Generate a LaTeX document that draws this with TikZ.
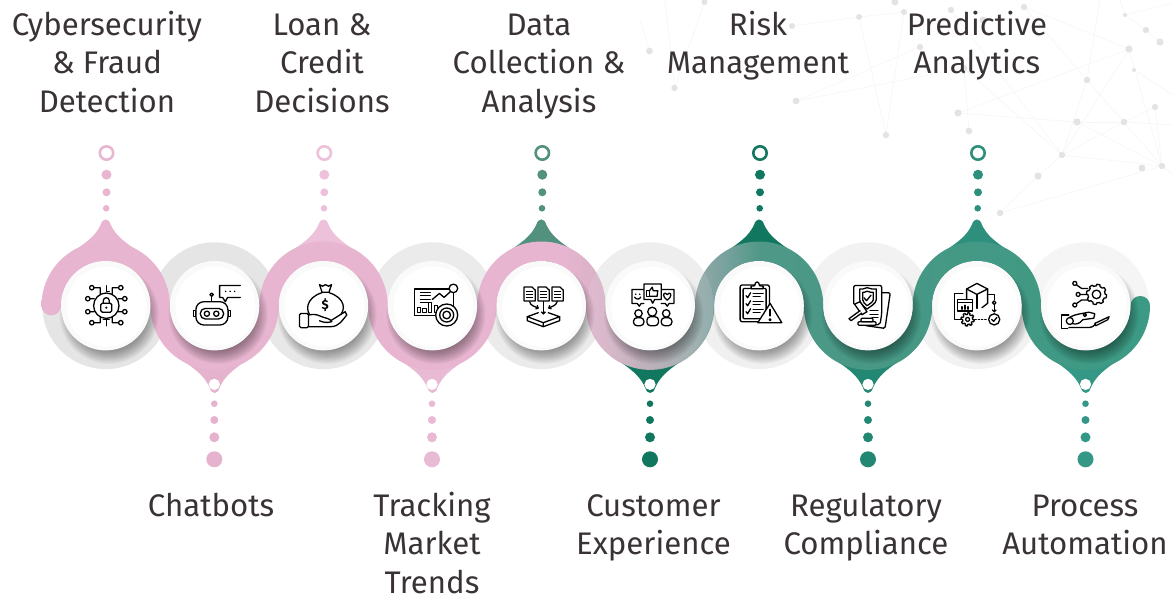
\documentclass[tikz,border=0pt]{standalone}
\usepackage{fontspec}
\setmainfont{Fira Sans}
\usepackage{xcolor}
\usetikzlibrary{arrows.meta}
\definecolor{bA}{HTML}{E8B5D0}
\definecolor{bB}{HTML}{D8B2C7}
\definecolor{bC}{HTML}{BCA9B6}
\definecolor{bD}{HTML}{99A9AA}
\definecolor{bE}{HTML}{7EA3A0}
\definecolor{bF}{HTML}{4F9888}
\definecolor{bG}{HTML}{489885}
\definecolor{bH}{HTML}{3C9A84}
\definecolor{txt}{HTML}{3A3335}
\definecolor{net}{HTML}{E3E3E3}
\definecolor{netl}{HTML}{F6F6F6}
\definecolor{dA}{HTML}{E8B6D1}
\definecolor{dB}{HTML}{E6B3CF}
\definecolor{dC}{HTML}{EDC1D9}
\definecolor{dD}{HTML}{E9BAD3}
\definecolor{dE}{HTML}{52917E}
\definecolor{dF}{HTML}{11775F}
\definecolor{dG}{HTML}{11775F}
\definecolor{dH}{HTML}{238873}
\definecolor{dI}{HTML}{2E8F7C}
\definecolor{dJ}{HTML}{359785}
\pgfdeclarehorizontalshading{bandgrad}{100bp}{color(0bp)=(bA); color(48.4bp)=(bA); color(50.2bp)=(bB); color(52bp)=(bC); color(54.25bp)=(bD); color(55.6bp)=(bE); color(57.4bp)=(bF); color(61.9bp)=(bG); color(75bp)=(bH); color(100bp)=(bH)}
\newcommand{\cy}{305.7}
\tikzset{
  label text/.style={font=\fontsize{31.2}{38.5}\selectfont, text=txt, align=center, inner sep=0pt, anchor=north},
  ico/.style={draw=black, line width=1.3pt, line cap=round, line join=round},
  wf/.style={ico, fill=white},
  netdot/.style={fill=net},
  netline/.style={draw=netl, line width=.7pt}
}
% tear drops
\newcommand{\dropup}[2]{\fill[#2] (#1-46,\cy-43) .. controls (#1-28,\cy-60) and (#1-13,\cy-64) .. (#1-5,\cy-81) .. controls (#1-3,\cy-88) and (#1+3,\cy-88) .. (#1+5,\cy-81) .. controls (#1+13,\cy-64) and (#1+28,\cy-60) .. (#1+46,\cy-43) -- cycle;}
\newcommand{\dropdn}[2]{\fill[#2] (#1-46,\cy+43) .. controls (#1-28,\cy+60) and (#1-13,\cy+64) .. (#1-5,\cy+82) .. controls (#1-3,\cy+89) and (#1+3,\cy+89) .. (#1+5,\cy+82) .. controls (#1+13,\cy+64) and (#1+28,\cy+60) .. (#1+46,\cy+43) -- cycle;}
\newcommand{\dotsup}[2]{%
  \draw[#2,line width=2.6pt,fill=white] (#1,153) circle (6.7);
  \fill[#2] (#1,174.7) circle (5); \fill[#2] (#1,192.3) circle (4); \fill[#2] (#1-.3,208.3) circle (3.3);}
\newcommand{\dotsdn}[2]{%
  \fill[white] (#1,\cy+78.7) circle (5.6);
  \fill[#2] (#1,403.7) circle (3.3); \fill[#2] (#1,420) circle (4); \fill[#2] (#1,437.3) circle (5); \fill[#2] (#1,459.3) circle (8);}
\newcommand{\gear}[4]{\draw[#4] plot[domain=0:360,samples=145,variable=\t] ({#1+(#3+1.6*(sign(sin(8*\t))+1)/2)*cos(\t)},{#2+(#3+1.6*(sign(sin(8*\t))+1)/2)*sin(\t)}) -- cycle;}
\begin{document}
\begin{tikzpicture}[x=1pt,y=-1pt]
\useasboundingbox (0,0) rectangle (1173,599);
% background network
\begin{scope}
\foreach \a/\b/\c/\d in {
 704.5/2/674.5/88, 649.5/51/640/20, 665/0/674.5/88, 792/26/859/17, 859/17/904/12, 859/17/886/135, 904/12/886/135,
 796/101/920/47, 796/101/964/68, 964/68/969/131, 958/113/1077/122, 958/113/1129/49, 964/68/1062/155, 951/10/1062/155,
 1024/7/1129/49, 1024/7/1087/80, 1087/80/1062/155, 1087/80/1162/166, 1129/49/1062/155, 1129/49/1162/166, 1077/122/1162/166,
 1077/122/1124/122, 1124/122/1155/107, 1155/107/1162/166, 1124/122/1062/155, 1062/155/1162/166, 1062/155/1038/176, 1000/213/1162/166,
 1125/15/1146/30, 1100/0/1087/80, 1134/70/1173/95, 1124/122/1173/125, 1125/15/1173/3, 1162/166/1173/175, 1038/176/1000/213,1120/0/1125/15,1146/30/1160/42}
 {\draw[netline] (\a,\b) -- (\c,\d);}
\foreach \a/\b/\r in {704.5/2/3, 649.5/51/3.4, 792/26/3, 674.5/88/3.2, 796/101/3.4, 886/135/3.2, 859/17/3, 895/2/3.5, 904/12/3, 920/47/3.2,
 951/10/3.2, 1024/7/3.2, 1125/15/2, 1146/30/3.2, 1160/42/3.6, 1129/49/3.6, 1087/80/3.2, 1134/70/2, 1155/107/3.2, 1124/122/3.2, 1077/122/3.6,
 958/113/3.6, 969/131/3.4, 1062/155/3.2, 1038/176/3.6, 1142/168/3.5, 1162/166/3.2, 1000/213/3.2, 964/68/3.2, 983/20/3.5}
 {\fill[netdot] (\a,\b) circle (\r);}
\end{scope}
% rings
\foreach \i/\g in {0/90,1/90,2/91,3/92,4/92,5/93,6/94,7/95,8/95,9/96}{
  \pgfmathsetmacro{\xc}{105.7+108.9*\i}
  \pgfmathtruncatemacro{\gg}{100-\g}
  \fill[black!\gg] (\xc,\cy) circle (63.4);
}
\dropup{105.7}{dA}\dropup{323.5}{dC}\dropup{541.3}{dE}\dropup{759.1}{dG}\dropup{976.9}{dI}
\dropdn{214.6}{dB}\dropdn{432.4}{dD}\dropdn{650.2}{dF}\dropdn{868}{dH}\dropdn{1085.8}{dJ}
% band
\shade[shading=bandgrad] (41.5,\cy)
  arc[start angle=180,end angle=360,radius=64.2] arc[start angle=180,end angle=0,radius=44.7]
  arc[start angle=180,end angle=360,radius=64.2] arc[start angle=180,end angle=0,radius=44.7]
  arc[start angle=180,end angle=360,radius=64.2] arc[start angle=180,end angle=0,radius=44.7]
  arc[start angle=180,end angle=360,radius=64.2] arc[start angle=180,end angle=0,radius=44.7]
  arc[start angle=180,end angle=360,radius=64.2] arc[start angle=180,end angle=0,radius=44.7]
  arc[start angle=180,end angle=360,radius=9.75]
  arc[start angle=0,end angle=180,radius=64.2] arc[start angle=360,end angle=180,radius=44.7]
  arc[start angle=0,end angle=180,radius=64.2] arc[start angle=360,end angle=180,radius=44.7]
  arc[start angle=0,end angle=180,radius=64.2] arc[start angle=360,end angle=180,radius=44.7]
  arc[start angle=0,end angle=180,radius=64.2] arc[start angle=360,end angle=180,radius=44.7]
  arc[start angle=0,end angle=180,radius=64.2] arc[start angle=360,end angle=180,radius=44.7]
  arc[start angle=0,end angle=180,radius=9.75] -- cycle;
% lighter veil at the sixth ring
\fill[white,opacity=.1] (650.2,\cy) circle (63.4);
% dots
\dotsup{106.5}{dA}\dotsup{324.3}{dC}\dotsup{542.3}{dE}\dotsup{760}{dG}\dotsup{978}{dI}
\dotsdn{214.3}{dB}\dotsdn{432}{dD}\dotsdn{650}{dF}\dotsdn{868}{dH}\dotsdn{1085.5}{dJ}
% shadows and discs
\foreach \i in {0,...,9}{
  \pgfmathsetmacro{\xc}{105.7+108.9*\i}
  \foreach \k in {0,...,11}{
    \fill[black,opacity=.035] (\xc+3.5,\cy+8.5) circle (37+\k*1.15);
  }
  \fill[white!98!black] (\xc,\cy) circle (44.7);
  \fill[white] (\xc+1,\cy+1) circle (40);
}
% ---- icons ----
\begin{scope}[shift={(106.3,\cy)}] % cyber
 \draw[ico] (0,0) circle (12.7);
 \draw[ico,rounded corners=1.5] (-5.5,-2.5) rectangle (5.5,6.5);
 \draw[ico] (-3,-2.5) -- (-3,-5) .. controls (-3,-9) and (3,-9) .. (3,-5) -- (3,-2.5);
 \fill (0,2) circle (1.2);
 \draw[ico] (-14.5,-18) circle (2.2) (-12.3,-18) -- (-6,-18) -- (-6,-12);
 \draw[ico] (14.5,-18) circle (2.2) (12.3,-18) -- (6,-18) -- (6,-12);
 \draw[ico] (0,-20) -- (0,-14) -- (3,-14);
 \draw[ico] (-18.5,-7) circle (2.2) (-16.3,-7) -- (-12,-7);
 \draw[ico] (18.5,-7) circle (2.2) (16.3,-7) -- (12,-7);
 \draw[ico] (-18.5,6) circle (2.2) (-16.3,6) -- (-12,6);
 \draw[ico] (18.5,6) circle (2.2) (16.3,6) -- (12,6);
 \draw[ico] (-14.5,17) circle (2.2) (-12.3,17) -- (-6,17) -- (-6,11);
 \draw[ico] (14.5,17) circle (2.2) (12.3,17) -- (6,17) -- (6,11);
 \draw[ico] (-3,14) -- (3,14) (0,14) -- (0,20);
\end{scope}
\begin{scope}[shift={(214.6,\cy)}] % robot
 \draw[ico] (-3,-4) -- (-3,-9.5); \draw[ico] (-3,-11) circle (1.7);
 \draw[ico] (-21,5) rectangle (-18.7,11); \draw[ico] (13.3,5) rectangle (15.7,11);
 \draw[wf,rounded corners=8] (-18.7,-4) rectangle (13.3,19.3);
 \draw[ico,rounded corners=5] (-14.3,2.7) rectangle (9,13.3);
 \draw[ico] (-7.7,8) circle (2.6); \draw[ico] (1.7,8) circle (2.6);
 \draw[wf] (25.7,-20.3) -- (5,-20.3) -- (5,-8.3) -- (8,-8.3) -- (10.7,-4) -- (13,-8.3) -- (25.7,-8.3);
 \fill (11,-14.3) circle (.8) (15.5,-14.3) circle (.8) (20,-14.3) circle (.8);
\end{scope}
\begin{scope}[shift={(323.5,\cy)}] % money
 \draw[ico] (-4,-21) -- (-1,-19.5) -- (2,-21) -- (5,-19.5) -- (8,-21) -- (5.5,-13.5) -- (-1.5,-13.5) -- cycle;
 \draw[ico] (-1.5,-13) .. controls (-18,-8) and (-19,6) .. (-11,12);
 \draw[ico] (5.5,-13) .. controls (22,-8) and (23,5) .. (15,11);
 \node[font=\fontsize{13}{13}\selectfont\bfseries,text=black,inner sep=0pt] (moneysign) at (1.7,-.7) {\$};
 \fill[white] (-15,9) -- (-7,9) -- (8,14) -- (21.7,6) -- (23.3,9.3) -- (12,21) -- (-15,21) -- cycle;
 \draw[ico,rounded corners=1.5] (-24,7.7) rectangle (-15,22);
 \draw[ico] (-15,9.3) .. controls (-10,8.5) and (-7,8.5) .. (-3,10.5) .. controls (1,12.5) and (7,12.5) .. (8.3,16) .. controls (3,17.5) and (-1,16.5) .. (-4,15);
 \draw[ico] (8,14.5) -- (21.7,6) -- (23.3,9.3) .. controls (19,14) and (16,21) .. (7,21) -- (-15,21);
\end{scope}
\begin{scope}[shift={(432.4,\cy)}] % tracking
 \draw[ico] (21,-16.7) -- (-18,-16.7) -- (-18,10) -- (4,10);
 \draw[ico] (21,-13) -- (21,0);
 \draw[ico] (-12,-13.5) -- (-2,-13.5) (-12,-10) -- (-2,-10) (-12,-6.5) -- (-2,-6.5) (-12,-3) -- (-2,-3);
 \draw[ico] (-15,2) rectangle (-11.7,7) (-9.7,3) rectangle (-6,7) (-4,-3) rectangle (-.7,7) (2,0) rectangle (5,7);
 \draw[ico] (0,-6.3) -- (7,-12.3) -- (11.7,-8.3) -- (19,-15);
 \draw[wf] (21,-17.3) circle (4.3);
 \draw[wf] (14.3,9.3) circle (11); \draw[ico] (14.3,9.3) circle (7); \draw[ico] (14.3,9.3) circle (3.8);
\end{scope}
\begin{scope}[shift={(541.3,\cy)}] % data
 \foreach \d in {-17.3,-3.3,10.7}{
  \draw[ico] (\d,-18.7) -- (\d+8,-18.7) -- (\d+11.3,-15.5) -- (\d+11.3,-4.7) -- (\d,-4.7) -- cycle;
  \draw[ico] (\d+2.5,-14) -- (\d+8.5,-14) (\d+2.5,-11) -- (\d+8.5,-11) (\d+2.5,-8) -- (\d+8.5,-8);
 }
 \draw[ico,-{Straight Barb[length=2pt,width=4pt]}] (-11.7,-4) .. controls (-11,0) and (-6,1) .. (-2.3,2.7);
 \draw[ico,-{Straight Barb[length=2pt,width=4pt]}] (2,-4.3) -- (2,9);
 \draw[ico,-{Straight Barb[length=2pt,width=4pt]}] (16,-4.3) .. controls (15,0) and (10,1) .. (6.7,2.7);
 \draw[ico] (-3,7) -- (-14,11) -- (2,17) -- (18.3,11) -- (7,7);
 \draw[ico] (-14,11) -- (-14,15) -- (2,21) -- (18.3,15) -- (18.3,11) (2,17) -- (2,21);
\end{scope}
\begin{scope}[shift={(650.2,\cy)}] % customer
 \draw[wf] (-6.3,-16.3) -- (-18.3,-16.3) -- (-18.3,-2.3) -- (-13,-2.3) -- (-11,.5) -- (-9,-2.3) -- (-6.3,-2.3);
 \draw[wf] (11,-16.3) -- (23.7,-16.3) -- (23.7,-2.3) -- (19,-2.3) -- (17,.5) -- (15,-2.3) -- (11,-2.3);
 \draw[wf] (-6.3,-21.7) -- (11,-21.7) -- (11,-6.3) -- (4.5,-6.3) -- (2.5,-2.5) -- (.5,-6.3) -- (-6.3,-6.3) -- cycle;
 \draw[ico] (-3.5,-15) rectangle (-1,-9.5);
 \draw[ico] (-1,-14.5) -- (2,-18.5) -- (3,-15) -- (7.5,-15) -- (7,-9.5) -- (-1,-9.5);
 \fill (-14.5,-11.5) circle (.9) (-10.5,-11.5) circle (.9);
 \draw[ico] (-15.5,-8.5) .. controls (-14,-6) and (-11,-6) .. (-9.5,-8.5);
 \draw[ico] (17,-5.5) .. controls (12,-9) and (13,-13) .. (15.2,-12.5) .. controls (16.3,-12.3) .. (17,-11) .. controls (17.7,-12.3) .. (18.8,-12.5) .. controls (21,-13) and (22,-9) .. (17,-5.5);
 \draw[ico] (-11.7,7.7) circle (3.7) (2,6) circle (4.5) (16,7.7) circle (3.7);
 \draw[ico,rounded corners=3.5] (-16.7,20) -- (-16.7,12) -- (-6.3,12) -- (-6.3,20) -- cycle;
 \draw[ico,rounded corners=3.5] (-3.3,20) -- (-3.3,11) -- (8.3,11) -- (8.3,20) -- cycle;
 \draw[ico,rounded corners=3.5] (11,20) -- (11,12) -- (21.7,12) -- (21.7,20) -- cycle;
\end{scope}
\begin{scope}[shift={(759.1,\cy)}] % risk
 \draw[ico,rounded corners=2] (-19,-20.7) rectangle (10.3,16);
 \draw[ico,rounded corners=1] (-16,-17.3) rectangle (7,13);
 \draw[wf] (-8,-19.5) -- (-4.5,-20) .. controls (-4,-25) and (0,-25) .. (.5,-20) -- (4,-19.5) -- (4,-17) -- (-8,-17) -- cycle;
 \foreach \r in {-10,-2,6}{
  \draw[ico] (-13,\r) -- (-11.5,\r+2) -- (-8.5,\r-3);
  \draw[ico] (-6,\r-2.5) -- (4,\r-2.5) (-6,\r+1) -- (1,\r+1);
 }
 \draw[wf] (11,-2.3) -- (22.7,17) -- (-1.3,17) -- cycle;
 \draw[line width=2pt,line cap=round] (11,4) -- (11,10);
 \draw[ico] (11,14) circle (.9);
\end{scope}
\begin{scope}[shift={(868,\cy)}] % regulatory
 \draw[ico,rounded corners=1.5] (13.7,-13) -- (22.3,-13) -- (17,22.7) -- (-2,20);
 \draw[wf,rounded corners=2] (-14.3,-2) -- (-14.3,-20.3) -- (13.7,-20.3) -- (13.7,8) -- (12,19) -- (-6,19);
 \draw[ico] (-1,-18) .. controls (-4,-16.5) and (-6,-16.7) .. (-8.3,-16.7) -- (-8.3,-6) .. controls (-8,-2) and (-4,1) .. (-1,3.3) .. controls (2,1) and (8,-2) .. (8.3,-6) -- (8.3,-16.7) .. controls (6,-16.7) and (2,-16.5) .. (-1,-18) -- cycle;
 \draw[ico] (-1,-14.5) .. controls (-3,-13.5) and (-4,-13.3) .. (-5.3,-13.3) -- (-5.3,-6) .. controls (-5,-3.5) and (-3,-1.5) .. (-1,0) .. controls (1,-1.5) and (5,-3.5) .. (5.3,-6) -- (5.3,-13.3) .. controls (4,-13.3) and (1,-13.5) .. (-1,-14.5) -- cycle;
 \draw[ico] (-4,-8) -- (-1.5,-5) -- (3,-10.5);
 \draw[ico] (2,5) -- (10,5) (2,8.5) -- (10,8.5) (4,12) -- (10,12);
 \draw[wf] (-13.5,-1.5) -- (-8,-4) -- (-1,6) -- (-6,9) -- cycle;
 \draw[wf] (-8,5) -- (-19,13) -- (-17,15) -- (-6.5,7.5);
 \draw[wf,rounded corners=1] (-10,16) rectangle (8,19.5);
 \draw[wf,rounded corners=1] (-7,12.5) rectangle (5,16);
\end{scope}
\begin{scope}[shift={(976.9,\cy)}] % predictive
 \draw[ico] (0,-22.3) -- (10.7,-16.7) -- (0,-11.3) -- (-10.3,-16.7) -- cycle;
 \draw[ico] (-10.3,-16.7) -- (-10.3,-5) (10.7,-16.7) -- (10.7,-2.3) -- (5,2);
 \draw[ico] (0,-11.3) -- (0,2.7);
 \draw[ico] (-14,-12.3) -- (-22.3,-12.3) -- (-22.3,14) -- (-16,14);
 \draw[wf] (-19.3,-6.3) rectangle (-4.3,5.3);
 \draw[ico] (-19.3,-3) -- (-4.3,-3);
 \draw[ico] (-15,3.5) -- (-15,1) (-12,3.5) -- (-12,-.5) (-9,3.5) -- (-9,1);
 \gear{-9.3}{13.7}{5}{ico}
 \draw[ico] (-9.3,13.7) circle (2);
 \draw[ico,dotted] (-2,13.7) -- (11,13.7);
 \draw[ico] (11.7,-11.3) -- (17.3,-11.3) -- (17.3,-6);
 \draw[ico] (17.3,-3) circle (1.8);
 \draw[ico,-{Straight Barb[length=2pt,width=4pt]}] (17.3,-1) -- (17.3,7);
 \draw[ico] (17.3,13.7) circle (5.6);
 \draw[ico] (14.8,13.7) -- (16.7,15.7) -- (20,11.7);
\end{scope}
\begin{scope}[shift={(1085.8,\cy)}] % process
 \gear{10.7}{-11.3}{8.5}{ico}
 \draw[ico] (10.7,-11.3) circle (4.3);
 \draw[ico] (-11,-22.3) circle (2) (-9.5,-21) -- (-4.3,-17.3) -- (2,-17.3);
 \draw[ico] (-7.7,-11.3) circle (2) (-5.7,-11.3) -- (1,-11.3);
 \draw[ico] (-11,-.7) circle (2) (-9.5,-2) -- (-4.3,-5.7) -- (2,-5.7);
 \draw[ico] (-24.3,9.3) -- (-17,9.3) (-24.3,9.3) -- (-24.3,22.7) -- (-18,22.7);
 \draw[ico] (-16,15.3) circle (3.5);
 \draw[ico] (-16,11.5) .. controls (-10,8) and (-3,8) .. (3,6.5) -- (9,8) -- (8,12.5) -- (-3,14) .. controls (-6,18) and (-10,19) .. (-13,18);
 \draw[ico] (-1,9.3) circle (1.6);
 \draw[ico] (9,17.7) -- (23.3,11) -- (22,14) -- (10,20) -- cycle;
 \draw[ico] (-17,21.7) -- (4,21.7) .. controls (6,21.7) and (8,20.5) .. (9,19);
\end{scope}
% ---- labels ----
\node[label text] (cyber) at (107,8.3) {\strut Cybersecurity\\\& Fraud\\Detection};
\node[label text] (loan) at (322,8.3) {\strut Loan \&\\Credit\\Decisions};
\node[label text] (data) at (539,8.3) {\strut Data\\Collection \&\\Analysis};
\node[label text] (risk) at (758,8.3) {\strut Risk\\Management};
\node[label text] (pred) at (977,8.3) {\strut Predictive\\Analytics};
\node[label text] (chat) at (211,489) {\strut Chatbots};
\node[label text] (track) at (432,489) {\strut Tracking\\Market\\Trends};
\node[label text] (cust) at (653.5,489) {\strut Customer\\Experience};
\node[label text] (reg) at (866,489) {\strut Regulatory\\Compliance};
\node[label text] (proc) at (1085,489) {\strut Process\\Automation};
\end{tikzpicture}
\end{document}
